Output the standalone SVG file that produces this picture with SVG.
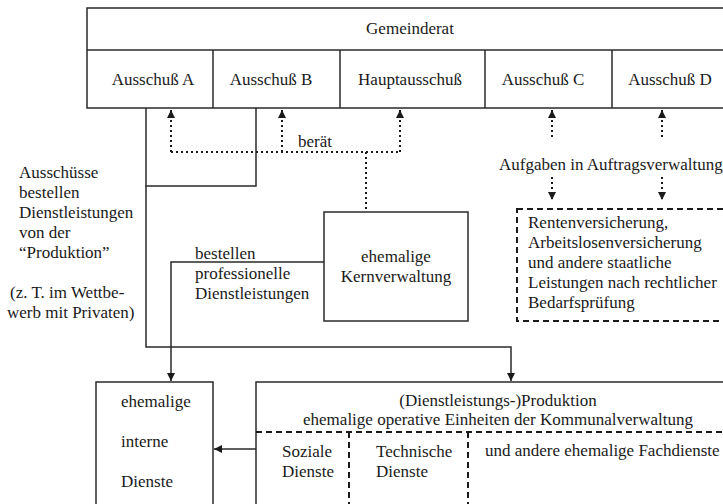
<svg xmlns="http://www.w3.org/2000/svg" width="723" height="504" viewBox="0 0 723 504">
<defs>
<marker id="ah" markerUnits="userSpaceOnUse" markerWidth="9" markerHeight="9" refX="8" refY="4" orient="auto">
<path d="M0,0 L8,4 L0,8 z" fill="#1a1a1a"/>
</marker>
<style>
text{font-family:'Liberation Serif','DejaVu Serif','Times New Roman',Times,serif;font-size:17px;fill:#1a1a1a}
.box{fill:#fff;stroke:#2a2a2a;stroke-width:1.5}
.ln{fill:none;stroke:#2a2a2a;stroke-width:1.5}
.dot{fill:none;stroke:#1a1a1a;stroke-width:2;stroke-dasharray:2 3}
.dash{fill:none;stroke:#1a1a1a;stroke-width:2;stroke-dasharray:6 4}
.m{text-anchor:middle}
</style>
</defs>
<rect width="723" height="504" fill="#fff"/>
<g id="gemeinderat">
<rect class="box" x="87" y="8" width="660" height="100"/>
<line class="ln" x1="87" y1="50" x2="747" y2="50"/>
<text class="m" x="410" y="34">Gemeinderat</text>
</g>
<g id="ausschuss-a"><text class="m" x="153" y="85">Ausschuß A</text></g>
<g id="ausschuss-b"><line class="ln" x1="213" y1="50" x2="213" y2="108"/><text class="m" x="271" y="85">Ausschuß B</text></g>
<g id="hauptausschuss"><line class="ln" x1="340" y1="50" x2="340" y2="108"/><text class="m" x="410" y="85">Hauptausschuß</text></g>
<g id="ausschuss-c"><line class="ln" x1="485" y1="50" x2="485" y2="108"/><text class="m" x="543" y="85">Ausschuß C</text></g>
<g id="ausschuss-d"><line class="ln" x1="612" y1="50" x2="612" y2="108"/><text class="m" x="670" y="85">Ausschuß D</text></g>

<g id="kernverwaltung">
<rect class="box" x="324" y="212" width="144" height="109"/>
<text class="m" x="396" y="262">ehemalige</text>
<text class="m" x="396" y="282">Kernverwaltung</text>
</g>

<g id="auftragsverwaltung">
<rect class="dash" x="517" y="209" width="230" height="112"/>
<text x="528" y="228">Rentenversicherung,</text>
<text x="528" y="248">Arbeitslosenversicherung</text>
<text x="528" y="268">und andere staatliche</text>
<text x="528" y="288">Leistungen nach rechtlicher</text>
<text x="528" y="308">Bedarfsprüfung</text>
</g>

<g id="interne-dienste">
<rect class="box" x="96" y="382" width="117" height="140"/>
<text x="121" y="407">ehemalige</text>
<text x="121" y="447">interne</text>
<text x="121" y="487">Dienste</text>
</g>

<g id="produktion">
<rect class="box" x="256" y="382" width="491" height="140"/>
<line class="dash" x1="256" y1="432" x2="747" y2="432"/>
<line class="dash" x1="349" y1="432" x2="349" y2="510"/>
<line class="dash" x1="468" y1="432" x2="468" y2="510"/>
<text class="m" x="498" y="406">(Dienstleistungs-)Produktion</text>
<text class="m" x="498" y="425">ehemalige operative Einheiten der Kommunalverwaltung</text>
<text x="282" y="457">Soziale</text>
<text x="282" y="477">Dienste</text>
<text x="376" y="457">Technische</text>
<text x="376" y="477">Dienste</text>
<text x="485" y="456">und andere ehemalige Fachdienste</text>
</g>

<g id="labels">
<text x="19" y="178">Ausschüsse</text>
<text x="19" y="198">bestellen</text>
<text x="19" y="218">Dienstleistungen</text>
<text x="19" y="238">von der</text>
<text x="19" y="258">“Produktion”</text>
<text x="10" y="298">(z. T. im Wettbe-</text>
<text x="7" y="318">werb mit Privaten)</text>
<text x="195" y="259">bestellen</text>
<text x="195" y="279">professionelle</text>
<text x="195" y="299">Dienstleistungen</text>
<text x="298" y="147">berät</text>
<text x="499" y="170">Aufgaben in Auftragsverwaltung</text>
</g>

<g id="connectors">
<polyline class="ln" points="146,108 146,186 256,186 256,108"/>
<polyline class="ln" points="146,186 146,347 511,347 511,381" marker-end="url(#ah)"/>
<polyline class="ln" points="324,262 171,262 171,381" marker-end="url(#ah)"/>
<line class="ln" x1="256" y1="449" x2="214" y2="449" marker-end="url(#ah)"/>
<polyline class="dot" points="171,152 400,152"/>
<line class="dot" x1="171" y1="152" x2="171" y2="110" marker-end="url(#ah)"/>
<line class="dot" x1="282" y1="152" x2="282" y2="110" marker-end="url(#ah)"/>
<line class="dot" x1="400" y1="152" x2="400" y2="110" marker-end="url(#ah)"/>
<line class="dot" x1="366" y1="152" x2="366" y2="211"/>
<line class="dot" x1="552" y1="137" x2="552" y2="110" marker-end="url(#ah)"/>
<line class="dot" x1="662" y1="137" x2="662" y2="110" marker-end="url(#ah)"/>
<line class="dot" x1="552" y1="177" x2="552" y2="200" marker-end="url(#ah)"/>
<line class="dot" x1="662" y1="177" x2="662" y2="200" marker-end="url(#ah)"/>
</g>
</svg>
